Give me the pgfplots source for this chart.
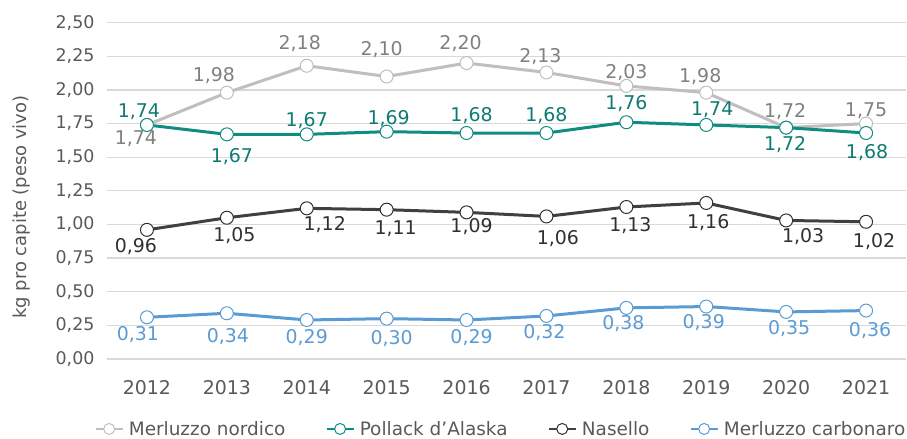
\documentclass[border=0pt]{standalone}
\usepackage{fontspec}
\setmainfont{DejaVu Sans}
\usepackage{pgfplots}
\usepackage{pgfplotstable}
\pgfplotsset{compat=1.18}

\definecolor{nordline}{RGB}{191,191,191}
\definecolor{nordtext}{RGB}{128,128,128}
\definecolor{polline}{RGB}{16,140,130}
\definecolor{poltext}{RGB}{14,122,114}
\definecolor{nasline}{RGB}{64,64,64}
\definecolor{nastext}{RGB}{48,48,48}
\definecolor{carline}{RGB}{91,155,213}
\definecolor{cartext}{RGB}{91,155,213}
\definecolor{ticktext}{RGB}{89,89,89}
\definecolor{gridc}{RGB}{217,217,217}

% x y dx dy  (dx, dy: label shift in bp from the point)
\pgfplotstableread{
x y dx dy
0 1.74 -11 -19.5
1 1.98 -13 11.5
2 2.18 -7 16
3 2.10 -5 21
4 2.20 -6 13.6
5 2.13 -6 9.6
6 2.03 0 7.5
7 1.98 -6 10
8 1.72 -1 10.5
9 1.75 0 7.4
}\nordico
\pgfplotstableread{
x y dx dy
0 1.74 -8 7
1 1.67 5 -28.5
2 1.67 0 8
3 1.69 2 7
4 1.68 5 12
5 1.68 0 12
6 1.76 0 13
7 1.74 6 9
8 1.72 -1 -23
9 1.68 1 -25
}\pollack
\pgfplotstableread{
x y dx dy
0 0.96 -11 -23
1 1.05 7.5 -23.3
2 1.12 18 -21.7
3 1.11 9 -24.7
4 1.09 5 -20.4
5 1.06 11.5 -28
6 1.13 4 -24.8
7 1.16 2 -25.4
8 1.03 17 -22.3
9 1.02 8 -26
}\nasello
\pgfplotstableread{
x y dx dy
0 0.31 -9 -23.7
1 0.34 1 -29.5
2 0.29 0 -23.7
3 0.30 5 -25.7
4 0.29 5 -23.7
5 0.32 -2 -22.8
6 0.38 -3 -21.4
7 0.39 -2.5 -22.2
8 0.35 3 -22.4
9 0.36 4 -25.5
}\carbonaro

\begin{document}
\begin{tikzpicture}
\useasboundingbox (0,0) rectangle (907bp,439bp);
\begin{axis}[
    at={(107bp,80bp)}, anchor=south west,
    scale only axis,
    width=799bp, height=336.3bp,
    xmin=-0.5, xmax=9.5,
    ymin=0, ymax=2.5,
    xtick={0,...,9},
    xticklabels={2012,2013,2014,2015,2016,2017,2018,2019,2020,2021},
    ytick={0,0.25,...,2.5},
    /pgf/number format/assume math mode=true,
    tick label style={text=ticktext},
    xticklabel style={yshift=-18bp, font=\fontsize{19}{21}\selectfont},
    yticklabel style={xshift=-9bp, font=\fontsize{17.5}{20}\selectfont,
        /pgf/number format/use comma,
        /pgf/number format/fixed, /pgf/number format/fixed zerofill,
        /pgf/number format/precision=2},
    major tick length=0pt,
    axis line style={draw=none},
    ymajorgrids,
    grid style={gridc, line width=1.3bp},
    ylabel={kg pro capite (peso vivo)},
    ylabel style={at={(axis description cs:-0.1064,0.452)}, anchor=center,
        font=\fontsize{18}{20}\selectfont, text=ticktext},
    clip=false,
    every axis plot/.append style={line width=3bp, mark=*, mark size=6.5bp},
    legend columns=4,
    legend style={at={(0.493,-0.208)}, anchor=center, draw=none, fill=none,
        font=\fontsize{18.5}{20}\selectfont, text=ticktext,
        /tikz/every odd column/.append style={column sep=3bp},
        /tikz/every even column/.append style={column sep=38bp},
        inner sep=0pt},
    legend image code/.code={
        \draw[mark repeat=2, mark phase=2, #1, line width=2.4bp, mark size=5.5bp]
            plot coordinates {(0bp,0bp) (13.5bp,0bp) (27bp,0bp)};
    },
    lbl/.style={
        nodes near coords,
        point meta=y,
        visualization depends on={\thisrow{dx} \as \ldx},
        visualization depends on={\thisrow{dy} \as \ldy},
        every node near coord/.style={anchor=base, inner sep=0pt,
            xshift=\ldx bp, yshift=\ldy bp, font=\fontsize{19}{21}\selectfont,
            text=#1,
            /pgf/number format/use comma, /pgf/number format/fixed,
            /pgf/number format/fixed zerofill, /pgf/number format/precision=2,
            /pgf/number format/assume math mode=true},
    },
]
\addplot[nordline, mark options={fill=white, draw=nordline, line width=1bp},
    lbl=nordtext] table[x=x, y=y] {\nordico};
\addlegendentry{Merluzzo nordico}
\addplot[polline, mark options={fill=white, draw=polline, line width=1bp},
    lbl=poltext] table[x=x, y=y] {\pollack};
\addlegendentry{Pollack d'Alaska}
\addplot[nasline, mark options={fill=white, draw=nastext, line width=1bp},
    lbl=nastext] table[x=x, y=y] {\nasello};
\addlegendentry{Nasello}
\addplot[carline, mark options={fill=white, draw=carline, line width=1bp},
    lbl=cartext] table[x=x, y=y] {\carbonaro};
\addlegendentry{Merluzzo carbonaro}
\end{axis}
\end{tikzpicture}
\end{document}
